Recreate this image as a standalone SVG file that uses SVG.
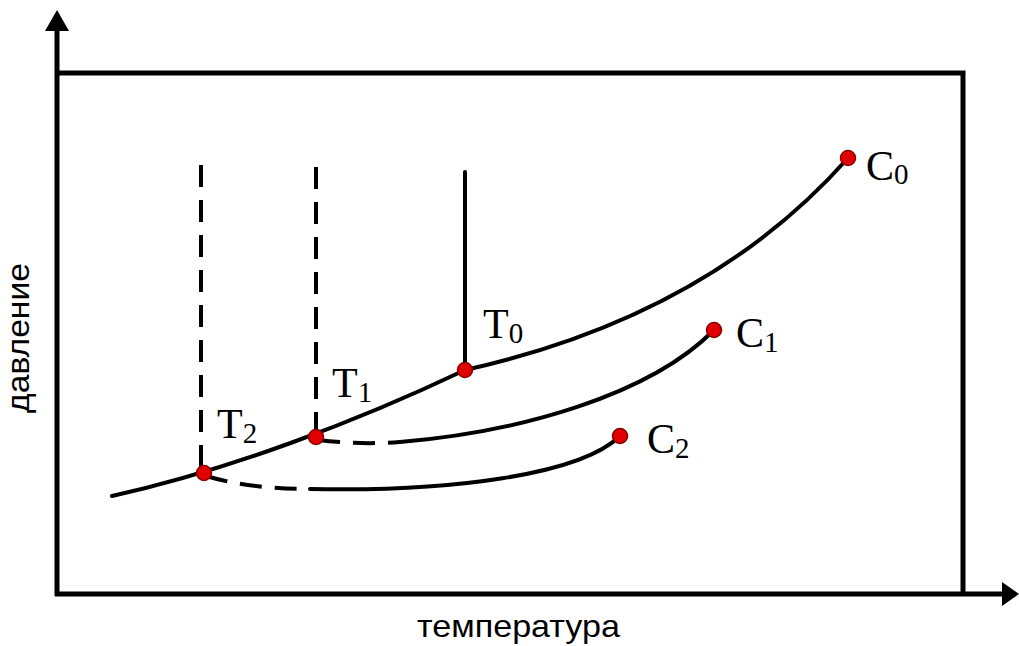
<svg xmlns="http://www.w3.org/2000/svg" width="1019" height="646" viewBox="0 0 1019 646">
<style>
.ax{stroke:#000;stroke-width:5;fill:none}
.cv{stroke:#000;stroke-width:4;fill:none;stroke-linecap:round}
.ds{stroke:#000;stroke-width:4;fill:none;stroke-dasharray:22 13}
.pt{fill:#e00000;stroke:#8b0000;stroke-width:1.5}
.lb{font-family:"Liberation Serif",serif;font-size:42px;fill:#000}
.sb{font-family:"Liberation Serif",serif;font-size:29px;fill:#000}
.al{font-family:"Liberation Sans",Arial,sans-serif;font-size:32px;fill:#000}
</style>
<rect width="1019" height="646" fill="#fff"/>
<g id="axes">
<line class="ax" x1="57" y1="28" x2="57" y2="596"/>
<polygon points="57,10 45,31 69,31" fill="#000"/>
<line class="ax" x1="55" y1="594" x2="1004" y2="594"/>
<polygon points="1019,594 1002,582 1002,606" fill="#000"/>
<polyline class="ax" points="57,73 963,73 963,594"/>
</g>
<g id="connectors">
<path class="cv" d="M112,496 C230,470 360,420 465,370 C600,340 740,280 848,158"/>
<line class="cv" x1="465" y1="172" x2="465" y2="370"/>
<line class="ds" x1="201" y1="165" x2="201" y2="473"/>
<line class="ds" x1="316" y1="167" x2="316" y2="437"/>
<path class="ds" d="M318,440 Q360,445 400,442"/>
<path class="cv" d="M400,442 C520,432 650,395 714,330"/>
<path class="ds" d="M206,476 Q250,489 310,489"/>
<path class="cv" d="M310,489 C450,492 580,475 620,436"/>
</g>
<g id="T2"><circle class="pt" cx="204" cy="473" r="7.5"/><text class="lb" x="217" y="438">T<tspan class="sb" dy="5">2</tspan></text></g>
<g id="T1"><circle class="pt" cx="316" cy="437" r="7.5"/><text class="lb" x="332" y="397">T<tspan class="sb" dy="5">1</tspan></text></g>
<g id="T0"><circle class="pt" cx="465" cy="370" r="7.5"/><text class="lb" x="483" y="338">T<tspan class="sb" dy="5">0</tspan></text></g>
<g id="C0"><circle class="pt" cx="848" cy="158" r="7.5"/><text class="lb" x="866" y="180">C<tspan class="sb" dy="4">0</tspan></text></g>
<g id="C1"><circle class="pt" cx="714" cy="330" r="7.5"/><text class="lb" x="736" y="347">C<tspan class="sb" dy="5">1</tspan></text></g>
<g id="C2"><circle class="pt" cx="620" cy="436" r="7.5"/><text class="lb" x="647" y="453">C<tspan class="sb" dy="5">2</tspan></text></g>
<g id="labels">
<text class="al" x="417" y="637" textLength="203" lengthAdjust="spacingAndGlyphs">температура</text>
<text class="al" x="0" y="0" textLength="150" lengthAdjust="spacingAndGlyphs" transform="translate(29,413) rotate(-90)">давление</text>
</g>
</svg>
